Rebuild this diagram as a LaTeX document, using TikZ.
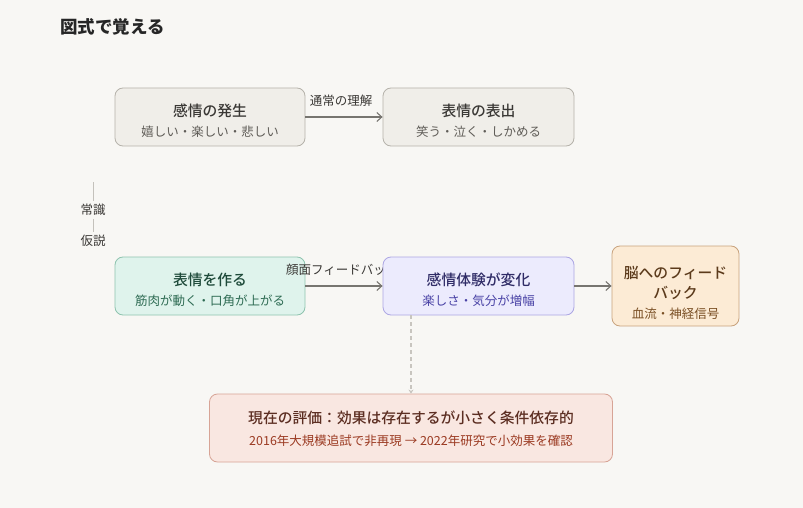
\documentclass[tikz,border=0pt]{standalone}
\usepackage{fontspec}
\setmainfont{Noto Sans CJK JP}
\newfontfamily\medfont{Noto Sans CJK JP Medium}
\usetikzlibrary{arrows.meta}
\definecolor{bg}{HTML}{F8F7F4}
\definecolor{gfill}{HTML}{F0EEE9}\definecolor{gdraw}{HTML}{B5B2AA}\definecolor{gtit}{HTML}{3A3835}\definecolor{gsub}{HTML}{5F5C57}
\definecolor{tfill}{HTML}{DFF3EC}\definecolor{tdraw}{HTML}{8EC3AE}\definecolor{ttit}{HTML}{1E4A3A}\definecolor{tsub}{HTML}{2E6B53}
\definecolor{pfill}{HTML}{ECEBFD}\definecolor{pdraw}{HTML}{ACA6E3}\definecolor{ptit}{HTML}{2F2B66}\definecolor{psub}{HTML}{4A43A6}
\definecolor{ofill}{HTML}{FCEBD5}\definecolor{odraw}{HTML}{C8A27C}\definecolor{otit}{HTML}{5B3A1B}\definecolor{osub}{HTML}{7A4F24}
\definecolor{rfill}{HTML}{F9E7E1}\definecolor{rdraw}{HTML}{D7A496}\definecolor{rtit}{HTML}{5C2E22}\definecolor{rsub}{HTML}{9B3A22}
\definecolor{arrc}{HTML}{777570}
\definecolor{dashc}{HTML}{C8C5BF}
\definecolor{txt}{HTML}{3A3835}
\tikzset{
  box/.style={rounded corners=8pt, line width=0.8pt, inner sep=0pt},
  tit/.style={font=\medfont\fontsize{14.8}{16}\selectfont, inner sep=0pt},
  sub/.style={font=\fontsize{12.5}{14}\selectfont, inner sep=0pt},
  lbl/.style={font=\fontsize{12.5}{14}\selectfont, text=txt, inner sep=0pt},
  arr/.style={draw=arrc, line width=1.2pt, -{Straight Barb[length=5pt,width=9pt,line width=1.1pt]}},
  dsh/.style={draw=dashc, line width=1.2pt, dash pattern=on 4pt off 3pt, -{Stealth[length=4pt,width=5pt]}},
  side/.style={font=\fontsize{12.5}{14}\selectfont, text=txt, inner sep=3pt},
}
\begin{document}
\begin{tikzpicture}[x=1pt,y=-1pt]
\useasboundingbox (0,0) rectangle (803,508);
\fill[bg] (0,0) rectangle (803,508);
\node[anchor=west, font=\bfseries\fontsize{17.5}{20}\selectfont, text=black!85, inner sep=0pt] (title) at (60,27) {図式で覚える};

% row 1
\node[box, fill=gfill, draw=gdraw, minimum width=190pt, minimum height=58pt] (b1) at (210,117) {};
\node[tit, text=gtit] (b1t) at (210,111) {感情の発生};
\node[sub, text=gsub] (b1s) at (210,132) {嬉しい・楽しい・悲しい};
\node[box, fill=gfill, draw=gdraw, minimum width=191pt, minimum height=58pt] (b2) at (478.5,117) {};
\node[tit, text=gtit] (b2t) at (478.5,111) {表情の表出};
\node[sub, text=gsub] (b2s) at (478.5,132) {笑う・泣く・しかめる};
\draw[arr] (b1.east) -- (b2.west);
\node[lbl] (l12) at (341,101) {通常の理解};

% side labels
\node[side] (c1) at (93,210) {常識};
\node[side] (c2) at (93,241) {仮説};
\coordinate (ctop) at (93,182);
\draw[draw=gdraw!80, line width=0.8pt] (ctop) -- (c1.north);
\draw[draw=gdraw!80, line width=0.8pt] (c1.south) -- (c2.north);

% row 2
\node[box, fill=tfill, draw=tdraw, minimum width=190pt, minimum height=58pt] (b3) at (210,286) {};
\node[tit, text=ttit] (b3t) at (210,280) {表情を作る};
\node[sub, text=tsub] (b3s) at (210,301) {筋肉が動く・口角が上がる};
\node[lbl, anchor=west] (l34) at (286,270) {顔面フィードバック};
\node[box, fill=pfill, draw=pdraw, minimum width=191pt, minimum height=58pt] (b4) at (478.5,286) {};
\node[tit, text=ptit] (b4t) at (478.5,280) {感情体験が変化};
\node[sub, text=psub] (b4s) at (478.5,301) {楽しさ・気分が増幅};
\draw[arr] (b3.east) -- (b4.west);
\node[box, fill=ofill, draw=odraw, minimum width=127pt, minimum height=80pt] (b5) at (675.5,286) {};
\node[tit, text=otit] (b5t1) at (675.5,273) {脳へのフィード};
\node[tit, text=otit] (b5t2) at (675.5,293) {バック};
\node[sub, text=osub] (b5s) at (675.5,314) {血流・神経信号};
\draw[arr] (b4.east) -- (b5.west);

% row 3
\node[box, fill=rfill, draw=rdraw, minimum width=403pt, minimum height=68pt] (b6) at (411,428) {};
\node[tit, text=rtit] (b6t) at (411,418) {現在の評価：効果は存在するが小さく条件依存的};
\node[sub, text=rsub] (b6s) at (411,441) {2016年大規模追試で非再現 → 2022年研究で小効果を確認};
\draw[dsh] (b4.south -| b6.north) -- (b6.north);
\end{tikzpicture}
\end{document}
